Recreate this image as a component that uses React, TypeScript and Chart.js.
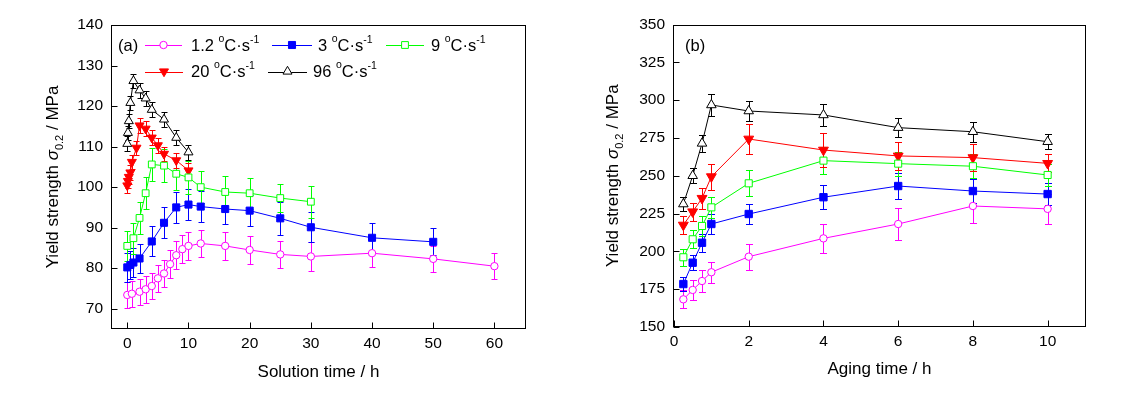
import React, { useEffect, useRef } from "react";
import { Chart, registerables } from "chart.js";
Chart.register(...registerables);

const FONT = "'Liberation Sans', Arial, Helvetica, sans-serif";
const TICK_FONT = 15.5;
const TITLE_FONT = 17;
const LEGEND_FONT = 16.5;

// ---------- Panel (a): solution time ----------
const solTicksX = [0, 10, 20, 30, 40, 50, 60];
const solTicksY = [70, 80, 90, 100, 110, 120, 130, 140];

const solT_1_2 = [0, 0.75, 2, 3, 4, 5, 6, 7, 8, 9, 10, 12, 16, 20, 25, 30, 40, 50, 60];
const solY_1_2 = [73.4, 73.7, 74.2, 74.8, 75.6, 77.5, 78.7, 81.0, 83.2, 84.7, 85.5, 86.1, 85.5, 84.5, 83.4, 82.9, 83.7, 82.3, 80.5];
const solE_1_2 = [3.1, 3.2, 3.2, 3.3, 3.3, 3.3, 3.3, 3.4, 3.4, 3.4, 3.4, 3.4, 3.4, 3.5, 3.3, 3.6, 3.4, 3.2, 3.2];

const solT_3 = [0, 0.5, 1, 2, 4, 6, 8, 10, 12, 16, 20, 25, 30, 40, 50];
const solY_3 = [80.2, 80.8, 81.4, 82.4, 86.6, 91.2, 95.0, 95.7, 95.2, 94.6, 94.2, 92.3, 90.1, 87.5, 86.5];
const solE_3 = [3.5, 3.5, 3.5, 3.6, 3.7, 3.8, 3.8, 3.8, 3.8, 3.8, 3.8, 4.0, 3.7, 3.7, 3.3];

const solT_9 = [0, 1, 2, 3, 4, 6, 8, 10, 12, 16, 20, 25, 30];
const solY_9 = [85.5, 87.4, 92.4, 98.5, 105.6, 105.3, 103.3, 102.4, 100.0, 98.8, 98.5, 97.3, 96.4];
const solE_9 = [3.8, 3.8, 3.9, 4.0, 4.0, 4.0, 4.0, 4.0, 4.0, 3.9, 3.8, 3.5, 3.9];

const solT_20 = [0, 0.1, 0.25, 0.5, 0.75, 1.5, 2, 3, 4, 5, 6, 8, 10];
const solY_20 = [100.4, 101.5, 102.5, 103.6, 106.2, 109.7, 115.2, 114.4, 112.2, 110.3, 108.2, 106.6, 104.1];
const solE_20 = [1.8, 1.8, 1.8, 1.8, 1.8, 1.8, 1.8, 1.8, 1.8, 1.8, 1.8, 1.8, 1.8];

const solT_96 = [0, 0.1, 0.25, 0.5, 1, 2, 3, 4, 6, 8, 10];
const solY_96 = [110.7, 113.4, 116.3, 120.8, 126.2, 123.9, 121.9, 119.1, 116.7, 112.2, 108.6];
const solE_96 = [1.8, 1.8, 1.8, 1.8, 1.8, 1.8, 1.8, 1.8, 1.8, 1.8, 1.8];

// ---------- Panel (b): aging time ----------
const ageTicksX = [0, 2, 4, 6, 8, 10];
const ageTicksY = [150, 175, 200, 225, 250, 275, 300, 325, 350];
const ageT = [0.25, 0.5, 0.75, 1, 2, 4, 6, 8, 10];

const ageY_1_2 = [168.3, 174.5, 180.4, 186.2, 196.5, 208.6, 218.1, 230.0, 228.1];
const ageE_1_2 = [6.0, 6.5, 7.0, 7.0, 8.6, 9.7, 10.5, 11.0, 10.0];
const ageY_3 = [178.4, 192.5, 205.7, 218.1, 224.7, 235.8, 243.2, 239.9, 237.9];
const ageE_3 = [4.5, 5.0, 6.0, 6.5, 6.6, 7.8, 8.6, 8.0, 7.0];
const ageY_9 = [196.1, 208.0, 216.8, 229.1, 245.0, 260.0, 258.0, 256.3, 250.5];
const ageE_9 = [5.5, 6.0, 6.5, 7.0, 8.6, 9.0, 8.0, 8.0, 7.0];
const ageY_20 = [217.4, 226.2, 235.1, 249.4, 274.3, 267.0, 263.1, 262.0, 258.2];
const ageE_20 = [6.0, 6.0, 7.0, 8.5, 10.0, 11.0, 9.0, 9.0, 6.0];
const ageY_96 = [231.3, 250.0, 271.4, 296.8, 292.8, 290.2, 281.8, 279.1, 272.5];
const ageE_96 = [4.4, 5.0, 5.5, 7.4, 6.7, 7.2, 6.5, 6.6, 5.0];

const seriesLabels = ["1.2", "3", "9", "20", "96"];
const seriesColors = ["#ff00ff", "#0000ff", "#00ff00", "#ff0000", "#000000"];

const solTimes = [solT_1_2, solT_3, solT_9, solT_20, solT_96];
const solVals = [solY_1_2, solY_3, solY_9, solY_20, solY_96];
const solErrs = [solE_1_2, solE_3, solE_9, solE_20, solE_96];
const ageTimes = [ageT, ageT, ageT, ageT, ageT];
const ageVals = [ageY_1_2, ageY_3, ageY_9, ageY_20, ageY_96];
const ageErrs = [ageE_1_2, ageE_3, ageE_9, ageE_20, ageE_96];

const styles = [
  { pointStyle: "circle", filled: false, rotation: 0 },
  { pointStyle: "rect", filled: true, rotation: 0 },
  { pointStyle: "rect", filled: false, rotation: 0 },
  { pointStyle: "triangle", filled: true, rotation: 180 },
  { pointStyle: "triangle", filled: false, rotation: 0 },
];
const leftRadius = [3.7, 5.0, 4.8, 5.2, 5.2];
const rightRadius = [3.7, 5.2, 5.0, 5.7, 5.5];

type Part = { t: string; size: number; dy?: number; italic?: boolean };

function drawParts(ctx: CanvasRenderingContext2D, parts: Part[], x: number, y: number, align: "left" | "center") {
  ctx.textAlign = "left";
  ctx.textBaseline = "alphabetic";
  let total = 0;
  const widths: number[] = [];
  for (const p of parts) {
    ctx.font = `${p.italic ? "italic " : ""}${p.size}px ${FONT}`;
    const w = ctx.measureText(p.t).width;
    widths.push(w);
    total += w;
  }
  let cx = align === "center" ? x - total / 2 : x;
  parts.forEach((p, i) => {
    ctx.font = `${p.italic ? "italic " : ""}${p.size}px ${FONT}`;
    ctx.fillText(p.t, cx, y + (p.dy || 0));
    cx += widths[i];
  });
}

function drawMarker(ctx: CanvasRenderingContext2D, s: number, x: number, y: number, r: number) {
  const st = styles[s];
  const color = seriesColors[s];
  ctx.save();
  ctx.beginPath();
  if (st.pointStyle === "circle") {
    ctx.arc(x, y, r, 0, Math.PI * 2);
  } else if (st.pointStyle === "rect") {
    const h = r * Math.SQRT1_2;
    ctx.rect(x - h, y - h, 2 * h, 2 * h);
  } else {
    let a = (st.rotation * Math.PI) / 180;
    ctx.moveTo(x + Math.sin(a) * r, y - Math.cos(a) * r);
    a += (2 * Math.PI) / 3;
    ctx.lineTo(x + Math.sin(a) * r, y - Math.cos(a) * r);
    a += (2 * Math.PI) / 3;
    ctx.lineTo(x + Math.sin(a) * r, y - Math.cos(a) * r);
    ctx.closePath();
  }
  ctx.fillStyle = st.filled ? color : "#ffffff";
  ctx.fill();
  ctx.strokeStyle = color;
  ctx.lineWidth = 1;
  ctx.stroke();
  ctx.restore();
}

const legendItems = [
  { s: 0, x0: 145, x1: 182, y: 45, tx: 191, ty: 50.7 },
  { s: 1, x0: 272, x1: 312, y: 45, tx: 318, ty: 50.7 },
  { s: 2, x0: 386, x1: 424, y: 45, tx: 431, ty: 50.7 },
  { s: 3, x0: 145, x1: 183, y: 71.5, tx: 191, ty: 76.7 },
  { s: 4, x0: 268, x1: 307, y: 71.5, tx: 313, ty: 76.7 },
];

type PanelCfg = {
  xTicks: number[];
  yTicks: number[];
  xMin: number;
  xMax: number;
  yMin: number;
  yMax: number;
  times: number[][];
  vals: number[][];
  errs: number[][];
  radius: number[];
  cap: number;
  xTitle: string;
  xTitleBase: number;
  panelLabel: string;
  panelLabelX: number;
  legend: boolean;
  padTop: number;
  padRight: number;
  yWidth: number;
  xHeight: number;
};

function makeConfig(p: PanelCfg): any {
  const datasets = p.times.map((ts, i) => ({
    label: seriesLabels[i],
    data: ts.map((t, j) => ({ x: t, y: p.vals[i][j] })),
    showLine: true,
    borderColor: seriesColors[i],
    borderWidth: 1,
    backgroundColor: styles[i].filled ? seriesColors[i] : "#ffffff",
    pointStyle: styles[i].pointStyle,
    pointRotation: styles[i].rotation,
    pointRadius: p.radius[i],
    pointHoverRadius: p.radius[i],
    pointBorderColor: seriesColors[i],
    pointBackgroundColor: styles[i].filled ? seriesColors[i] : "#ffffff",
    pointBorderWidth: 1,
    fill: false,
    tension: 0,
    clip: false,
  }));

  const decor = {
    id: "decor",
    beforeDatasetsDraw(chart: any) {
      const ctx: CanvasRenderingContext2D = chart.ctx;
      const xs = chart.scales.x;
      const ys = chart.scales.y;
      ctx.save();
      ctx.lineWidth = 1;
      p.times.forEach((ts, i) => {
        ctx.strokeStyle = seriesColors[i];
        ts.forEach((t, j) => {
          const v = p.vals[i][j];
          const e = p.errs[i][j];
          const x = Math.round(xs.getPixelForValue(t)) + 0.5;
          const yt = Math.round(ys.getPixelForValue(v + e)) + 0.5;
          const yb = Math.round(ys.getPixelForValue(v - e)) + 0.5;
          ctx.beginPath();
          ctx.moveTo(x, yt);
          ctx.lineTo(x, yb);
          ctx.moveTo(x - p.cap, yt);
          ctx.lineTo(x + p.cap, yt);
          ctx.moveTo(x - p.cap, yb);
          ctx.lineTo(x + p.cap, yb);
          ctx.stroke();
        });
      });
      ctx.restore();
    },
    afterDraw(chart: any) {
      const ctx: CanvasRenderingContext2D = chart.ctx;
      const a = chart.chartArea;
      const xs = chart.scales.x;
      const ys = chart.scales.y;
      ctx.save();
      ctx.strokeStyle = "#000";
      ctx.lineWidth = 1;
      const L = Math.round(a.left) - 0.5;
      const R = Math.round(a.right) + 0.5;
      const T = Math.round(a.top) + 0.5;
      const B = Math.round(a.bottom) - 0.5;
      ctx.strokeRect(L, T, R - L, B - T);
      ctx.beginPath();
      p.xTicks.forEach((v) => {
        const x = Math.round(xs.getPixelForValue(v)) + 0.5;
        ctx.moveTo(x, B);
        ctx.lineTo(x, B - 6);
      });
      p.yTicks.forEach((v) => {
        const y = Math.round(ys.getPixelForValue(v)) + 0.5;
        ctx.moveTo(L, y);
        ctx.lineTo(L + 6, y);
      });
      ctx.stroke();

      ctx.fillStyle = "#000";
      // x title
      drawParts(ctx, [{ t: p.xTitle, size: TITLE_FONT }], (a.left + a.right) / 2, p.xTitleBase, "center");
      // y title (rotated)
      ctx.save();
      ctx.translate(58, (a.top + a.bottom) / 2);
      ctx.rotate(-Math.PI / 2);
      drawParts(
        ctx,
        [
          { t: "Yield strength ", size: TITLE_FONT },
          { t: "σ", size: TITLE_FONT, italic: true },
          { t: "0.2", size: 11, dy: 4.5 },
          { t: " / MPa", size: TITLE_FONT },
        ],
        0,
        0,
        "center"
      );
      ctx.restore();

      // panel label
      drawParts(ctx, [{ t: p.panelLabel, size: LEGEND_FONT }], p.panelLabelX, 50.5, "left");

      if (p.legend) {
        legendItems.forEach((it) => {
          ctx.strokeStyle = seriesColors[it.s];
          ctx.lineWidth = 1;
          ctx.beginPath();
          ctx.moveTo(it.x0, Math.round(it.y) + 0.5);
          ctx.lineTo(it.x1, Math.round(it.y) + 0.5);
          ctx.stroke();
          drawMarker(ctx, it.s, (it.x0 + it.x1) / 2, it.y, p.radius[it.s]);
          ctx.fillStyle = "#000";
          drawParts(
            ctx,
            [
              { t: seriesLabels[it.s] + " ", size: LEGEND_FONT },
              { t: "o", size: 10.5, dy: -8.5 },
              { t: "C·s", size: LEGEND_FONT },
              { t: "-1", size: 10.5, dy: -7.5 },
            ],
            it.tx,
            it.ty,
            "left"
          );
        });
      }
      ctx.restore();
    },
  };

  return {
    type: "scatter",
    data: { datasets },
    options: {
      animation: false,
      responsive: false,
      maintainAspectRatio: false,
      devicePixelRatio: 1,
      layout: { padding: { left: 0, top: p.padTop, right: p.padRight, bottom: 0 } },
      plugins: { legend: { display: false }, tooltip: { enabled: false } },
      scales: {
        x: {
          type: "linear",
          min: p.xMin,
          max: p.xMax,
          afterBuildTicks: (s: any) => {
            s.ticks = p.xTicks.map((v) => ({ value: v }));
          },
          afterFit: (s: any) => {
            s.height = p.xHeight;
          },
          grid: { display: false, drawTicks: false },
          border: { display: false },
          ticks: {
            color: "#000",
            padding: 5,
            maxRotation: 0,
            autoSkip: false,
            font: { family: FONT, size: TICK_FONT },
          },
        },
        y: {
          type: "linear",
          min: p.yMin,
          max: p.yMax,
          afterBuildTicks: (s: any) => {
            s.ticks = p.yTicks.map((v) => ({ value: v }));
          },
          afterFit: (s: any) => {
            s.width = p.yWidth;
          },
          grid: { display: false, drawTicks: false },
          border: { display: false },
          ticks: {
            color: "#000",
            padding: 9,
            autoSkip: false,
            font: { family: FONT, size: TICK_FONT },
          },
        },
      },
    },
    plugins: [decor],
  };
}

const leftCfg: PanelCfg = {
  xTicks: solTicksX,
  yTicks: solTicksY,
  xMin: -2.5,
  xMax: 65,
  yMin: 65,
  yMax: 140,
  times: solTimes,
  vals: solVals,
  errs: solErrs,
  radius: leftRadius,
  cap: 3,
  xTitle: "Solution time / h",
  xTitleBase: 376.5,
  panelLabel: "(a)",
  panelLabelX: 118,
  legend: true,
  padTop: 25,
  padRight: 35,
  yWidth: 112,
  xHeight: 70,
};

const rightCfg: PanelCfg = {
  xTicks: ageTicksX,
  yTicks: ageTicksY,
  xMin: 0,
  xMax: 11,
  yMin: 150,
  yMax: 350,
  times: ageTimes,
  vals: ageVals,
  errs: ageErrs,
  radius: rightRadius,
  cap: 3.5,
  xTitle: "Aging time / h",
  xTitleBase: 374,
  panelLabel: "(b)",
  panelLabelX: 125,
  legend: false,
  padTop: 24.5,
  padRight: 36,
  yWidth: 114,
  xHeight: 72,
};

function Panel({ cfg, left, width }: { cfg: PanelCfg; left: number; width: number }) {
  const ref = useRef<HTMLCanvasElement | null>(null);
  useEffect(() => {
    if (!ref.current) return;
    const chart = new Chart(ref.current, makeConfig(cfg));
    return () => chart.destroy();
  }, [cfg]);
  return (
    <canvas
      ref={ref}
      width={width}
      height={399}
      style={{ position: "absolute", left, top: 0, width, height: 399 }}
    />
  );
}

export default function App() {
  return (
    <div style={{ position: "absolute", left: 0, top: 0, width: 1121, height: 399, background: "#fff" }}>
      <Panel cfg={leftCfg} left={0} width={560} />
      <Panel cfg={rightCfg} left={560} width={561} />
    </div>
  );
}
